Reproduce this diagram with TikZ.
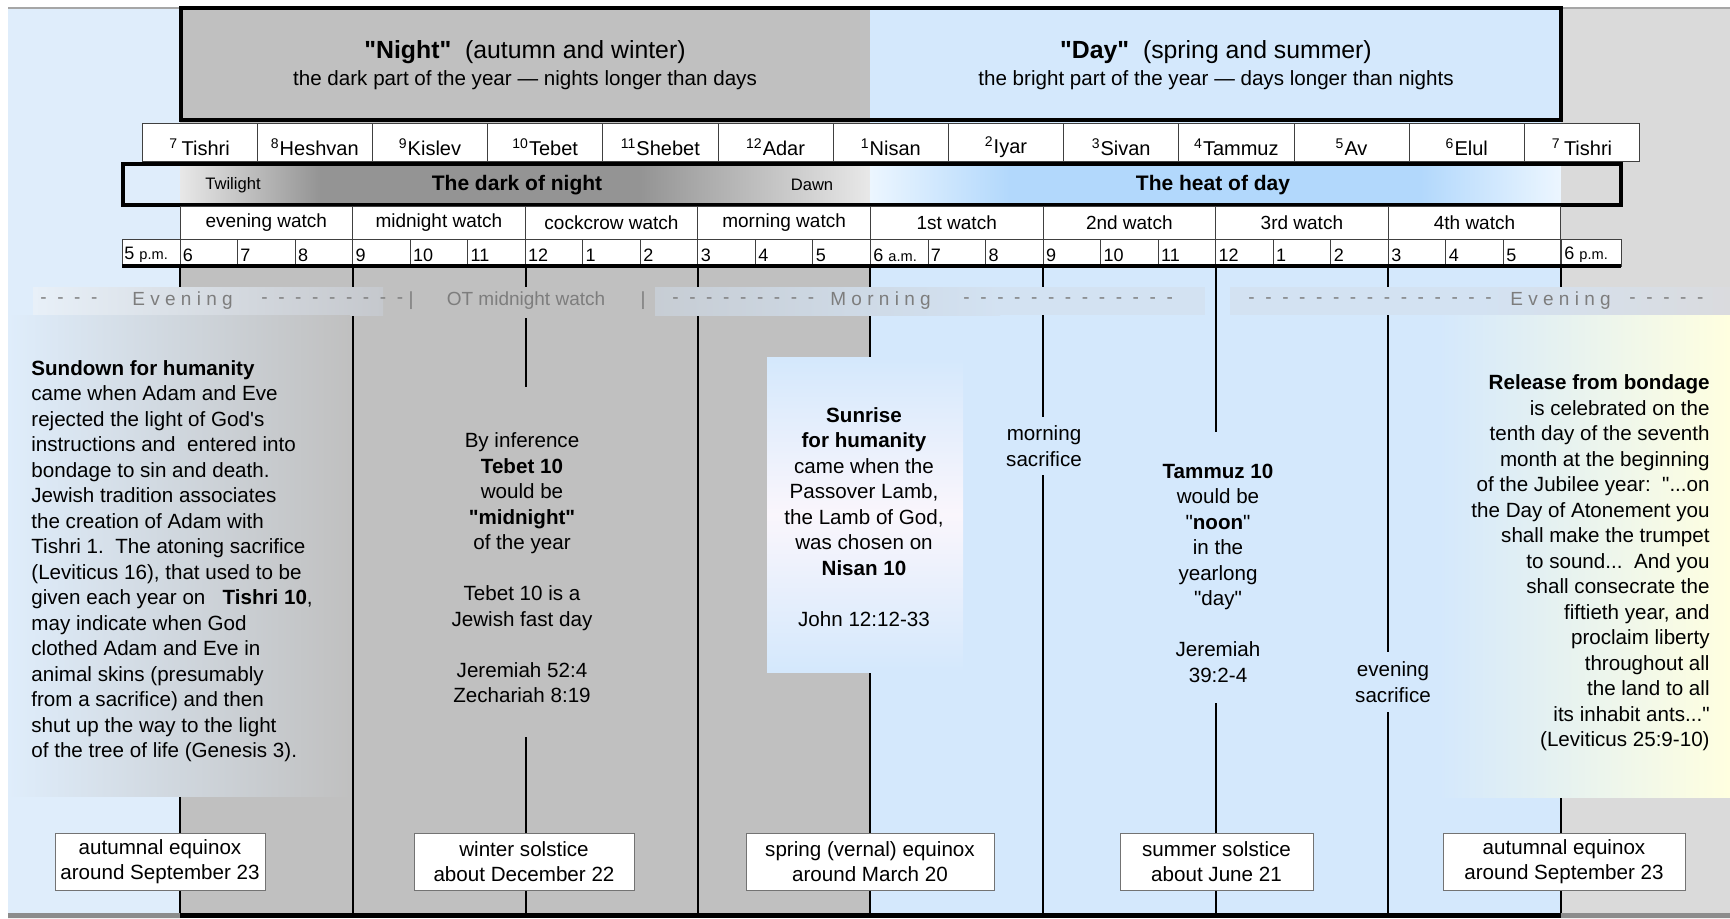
\documentclass[tikz,border=0pt]{standalone}
\usepackage{fontspec}
\setmainfont{Liberation Sans}[Ligatures=TeXOff]
\definecolor{colblue}{RGB}{223,237,251}
\definecolor{nightgray}{RGB}{192,192,192}
\definecolor{dayblue}{RGB}{212,232,252}
\definecolor{sidegray}{RGB}{218,218,218}
\definecolor{bandtext}{RGB}{125,125,125}
\definecolor{twlight}{RGB}{232,232,232}
\definecolor{twdark}{RGB}{148,148,148}
\definecolor{heatpale}{RGB}{236,246,255}
\definecolor{heatblue}{RGB}{178,216,252}
\definecolor{bandA}{RGB}{232,240,248}
\definecolor{bandB}{RGB}{197,200,205}
\definecolor{bandC}{RGB}{199,205,212}
\definecolor{bandD}{RGB}{211,226,242}
\definecolor{bandE}{RGB}{218,219,222}
\definecolor{paleyellow}{RGB}{255,255,224}
\definecolor{sunmid}{RGB}{250,246,252}
\newcommand{\fbody}{\fontsize{10.3}{12.75}\selectfont}
\newcommand{\fhead}{\fontsize{12.4}{15}\selectfont}
\newcommand{\fmonth}{\fontsize{10}{12}\selectfont}
\newcommand{\fwatch}{\fontsize{9.5}{11}\selectfont}
\newcommand{\fhour}{\fontsize{9}{11}\selectfont}
\newcommand{\fampm}{\fontsize{7.3}{9}\selectfont}
\newcommand{\fsmall}{\fontsize{8.3}{10}\selectfont}
\newcommand{\fbold}{\fontsize{10.5}{12}\selectfont\bfseries}
\newcommand{\dashes}[1]{\foreach \k in {1,...,#1}{\ifnum\k>1\hspace{5.3pt}\fi-}}
\begin{document}
\begin{tikzpicture}[x=0.5pt,y=-0.5pt,
  cell/.style={draw=black!75,line width=0.5pt,fill=white},
  wline/.style={line width=0.75pt},
  txt/.style={font=\fbody,inner sep=0pt},
  bandlbl/.style={font=\fwatch,text=bandtext,inner sep=0pt},
  eqbox/.style={draw=black!55,fill=white,line width=0.5pt,align=center,font=\fbody,minimum height=28.5pt,inner sep=1pt}]
\useasboundingbox (0,0) rectangle (1730,918);
\fill[colblue] (8,8) rectangle (180,918);
\fill[nightgray] (180,8) rectangle (870,918);
\fill[dayblue] (870,8) rectangle (1561,918);
\fill[sidegray] (1561,8) rectangle (1730,918);
\draw[black!35,line width=0.8pt] (8,8) -- (180,8) (1561,8) -- (1730,8);
\fill[black!45] (8,913) rectangle (180,918) (1561,913) rectangle (1730,918);
\fill[black] (180,913) rectangle (1561,918);
\foreach \x/\ya/\yb in {180/266/913,353/266/913,526/266/287,526/318/387,526/737/913,
  698/266/913,870/266/913,1043/266/417,1043/475/913,1216/266/432,1216/703/913,
  1388/266/652,1388/712/913,1561/266/913}
  \draw[wline] (\x,\ya) -- (\x,\yb);

\draw[line width=2pt] (181,8) rectangle (1561,120);
\node[font=\fhead] (night) at (525,52) {\textbf{"Night"}\ \ (autumn and winter)};
\node[txt] (nightsub) at (525,80) {the dark part of the year \textemdash{} nights longer than days};
\node[font=\fhead] (day) at (1216,52) {\textbf{"Day"}\ \ (spring and summer)};
\node[txt] (daysub) at (1216,80) {the bright part of the year \textemdash{} days longer than nights};

\foreach \m [count=\i from 0] in {\textsuperscript{7}\,Tishri,\textsuperscript{8}Heshvan,\textsuperscript{9}Kislev,
  \textsuperscript{10}Tebet,\textsuperscript{11}Shebet,\textsuperscript{12}Adar,\textsuperscript{1}Nisan,
  \textsuperscript{2}Iyar,\textsuperscript{3}Sivan,\textsuperscript{4}Tammuz,\textsuperscript{5}Av,
  \textsuperscript{6}Elul,\textsuperscript{7}\,Tishri}
{
  \draw[cell] (142+115.2*\i,123) rectangle ++(115.2,38);
  \node[font=\fmonth,inner sep=0pt] (m\i) at (199.6+115.2*\i,147) {\m};
}

\fill[colblue] (123,164) rectangle (180,205);
\shade[left color=twlight,right color=twdark] (180,164) rectangle (320,205);
\fill[twdark] (320,164) rectangle (640,205);
\shade[left color=twdark,right color=twlight] (640,164) rectangle (870,205);
\shade[left color=heatpale,right color=heatblue] (870,164) rectangle (1010,205);
\fill[heatblue] (1010,164) rectangle (1420,205);
\shade[left color=heatblue,right color=heatpale] (1420,164) rectangle (1561,205);
\fill[sidegray] (1561,164) rectangle (1621,205);
\draw[line width=2pt] (123,164) rectangle (1621,205);
\node[font=\fsmall] (twi) at (233,185) {Twilight};
\node[font=\fbold] (dark) at (517,185) {The dark of night};
\node[font=\fsmall] (dawn) at (812,185) {Dawn};
\node[font=\fbold] (heat) at (1213,185) {The heat of day};

\foreach \w [count=\i from 0] in {evening watch,midnight watch,cockcrow watch,morning watch,
  1st watch,2nd watch,3rd watch,4th watch}
{
  \draw[cell] (180+172.6*\i,206) rectangle ++(172.6,33);
  \node[font=\fwatch,inner sep=0pt] (w\i) at (266.3+172.6*\i,223) {\w};
}

\draw[cell] (122,239) rectangle (180,266);
\node[font=\fhour,inner sep=0pt,anchor=west] (h0) at (124,255) {5 {\fampm p.m.}};
\foreach \h [count=\i] in {6,7,8,9,10,11,12,1,2,3,4,5,6 {\fampm a.m.},7,8,9,10,11,12,1,2,3,4,5}
{
  \draw[cell] (122.46+57.54*\i,239) rectangle ++(57.54,27);
  \node[font=\fhour,inner sep=0pt,anchor=west] (h\i) at (125+57.54*\i,255) {\h};
}
\draw[cell] (1561,239) rectangle (1621,266);
\node[font=\fhour,inner sep=0pt,anchor=west] (h25) at (1564,255) {6 {\fampm p.m.}};
\draw[line width=1.6pt] (122,266) -- (1621,266);

\shade[left color=bandA,right color=bandB] (33,287) rectangle (383,315);
\shade[left color=bandC,right color=bandD] (655,287) rectangle (1000,315);
\fill[bandD] (1000,287) rectangle (1205,315);
\fill[bandD] (1230,287) rectangle (1480,315);
\shade[left color=bandD,right color=bandE] (1480,287) rectangle (1730,315);
\node[bandlbl,anchor=west] (ev1) at (40,301) {\dashes{4}};
\node[bandlbl,anchor=west] (evw) at (132,301) {E v e n i n g};
\node[bandlbl,anchor=west] (ev2) at (261,301) {\dashes{9}};
\node[bandlbl] (bar1) at (411,301) {|};
\node[bandlbl] (otm) at (526,301) {OT midnight watch};
\node[bandlbl] (bar2) at (643,301) {|};
\node[bandlbl,anchor=west] (mo1) at (672,301) {\dashes{9}};
\node[bandlbl,anchor=west] (mow) at (830,301) {M o r n i n g};
\node[bandlbl,anchor=west] (mo2) at (963,301) {\dashes{13}};
\node[bandlbl,anchor=west] (ev3) at (1248,301) {\dashes{15}};
\node[bandlbl,anchor=west] (evw2) at (1510,301) {E v e n i n g};
\node[bandlbl,anchor=west] (ev4) at (1629,301) {\dashes{5}};

\shade[left color=colblue,right color=nightgray] (8,315) rectangle (350,796);
\shade[left color=dayblue,right color=paleyellow] (1438,315) rectangle (1730,797);
\shade[top color=dayblue,bottom color=dayblue,middle color=sunmid] (767,357) rectangle (963,672);

\node[txt,anchor=west,align=left] (sundown) at (31,561) {\textbf{Sundown for humanity}\\
  came when Adam and Eve\\ rejected the light of God's\\ instructions and\ \ entered into\\
  bondage to sin and death.\\ Jewish tradition associates\\ the creation of Adam with\\
  Tishri 1.\ \ The atoning sacrifice\\ (Leviticus 16), that used to be\\
  given each year on\ \ \ \textbf{Tishri 10},\\ may indicate when God\\ clothed Adam and Eve in\\
  animal skins (presumably\\ from a sacrifice) and then\\ shut up the way to the light\\
  of the tree of life (Genesis 3).};
\node[txt,align=center] (midnight) at (522,568) {By inference\\ \textbf{Tebet 10}\\ would be\\
  \textbf{"midnight"}\\ of the year\\[12.75pt] Tebet 10 is a\\ Jewish fast day\\[12.75pt]
  Jeremiah 52:4\\ Zechariah 8:19};
\node[txt,align=center] (sunrise) at (864,517) {\textbf{Sunrise}\\ \textbf{for humanity}\\
  came when the\\ Passover Lamb,\\ the Lamb of God,\\ was chosen on\\ \textbf{Nisan 10}\\[12.75pt]
  John 12:12-33};
\node[txt,align=center] (morningsac) at (1044,446) {morning\\ sacrifice};
\node[txt,align=center] (noon) at (1218,573) {\textbf{Tammuz 10}\\ would be\\ "\textbf{noon}"\\
  in the\\ yearlong\\ "day"\\[12.75pt] Jeremiah\\ 39:2-4};
\node[txt,align=center] (eveningsac) at (1393,682) {evening\\ sacrifice};
\node[txt,align=right,anchor=east] (release) at (1710,563) {\textbf{Release from bondage}\\
  is celebrated on the\\ tenth day of the seventh\\ month at the beginning\\
  of the Jubilee year:\ \ "...on\\ the Day of Atonement you\\ shall make the trumpet\\
  to sound...\ \ And you\\ shall consecrate the\\ fiftieth year, and\\ proclaim liberty\\
  throughout all\\ the land to all\\ its inhabit ants..."\\ (Leviticus 25:9-10)};

\node[eqbox,minimum width=105pt] (autumnA) at (160,861.5) {autumnal equinox\\ around September 23};
\node[eqbox,minimum width=110pt] (winter) at (524,861.5) {winter solstice\\ about December 22};
\node[eqbox,minimum width=124pt] (spring) at (870,861.5) {spring (vernal) equinox\\ around March 20};
\node[eqbox,minimum width=96.5pt] (summer) at (1216.5,861.5) {summer solstice\\ about June 21};
\node[eqbox,minimum width=121pt] (autumnB) at (1564,861.5) {autumnal equinox\\ around September 23};
\end{tikzpicture}
\end{document}
